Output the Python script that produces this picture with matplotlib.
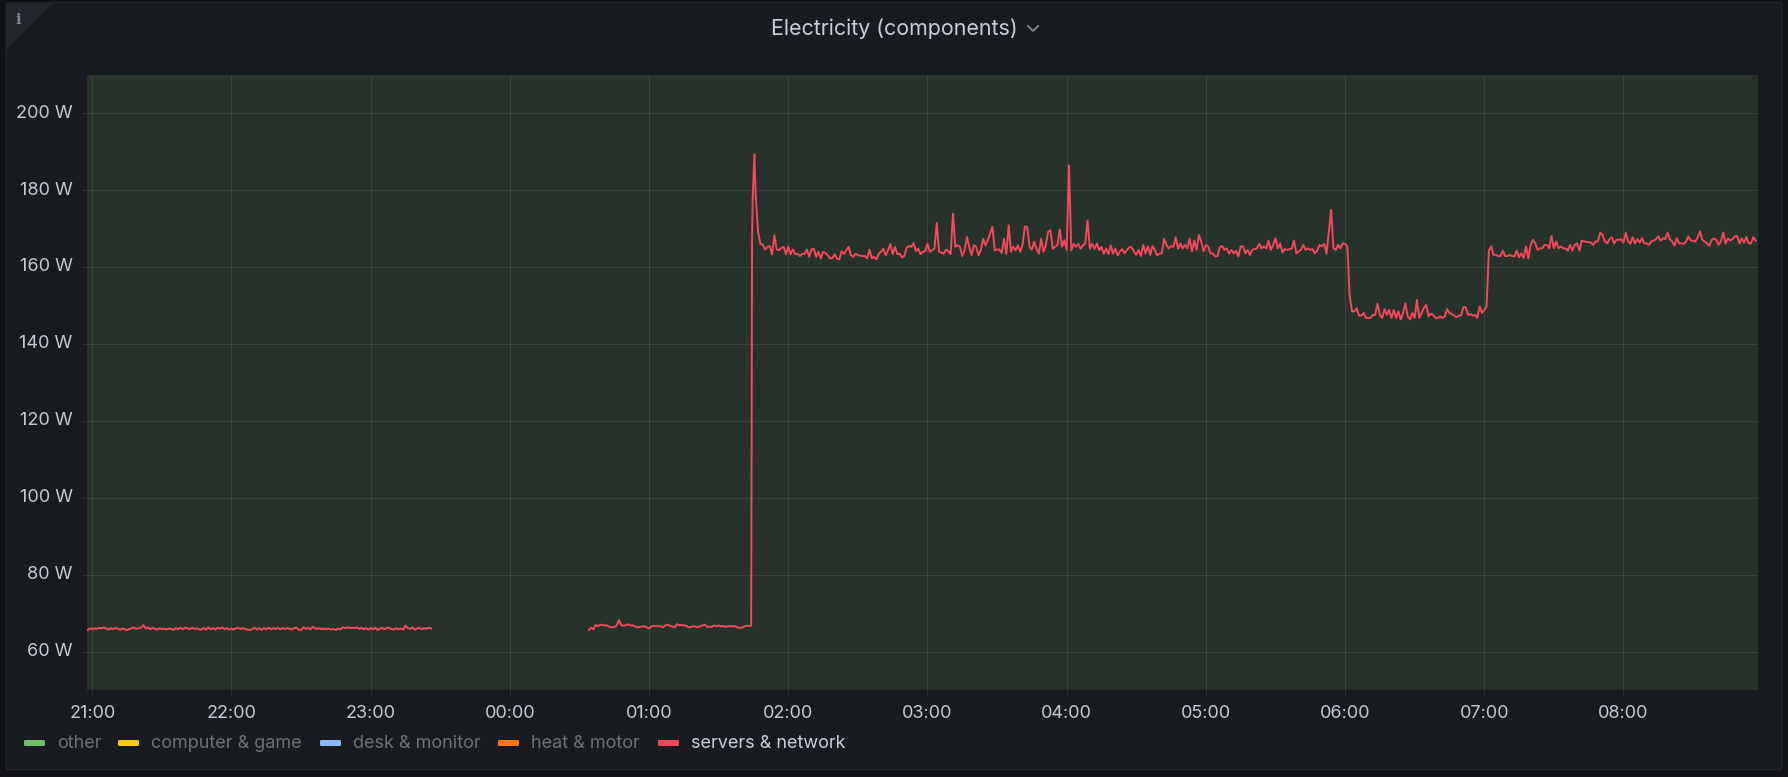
'''Electricity (components) panel: one day-night stretch of the servers & network power draw.'''
import pandas as pd
import matplotlib
matplotlib.use("Agg")
import matplotlib.pyplot as plt
import matplotlib.dates as mdates
from matplotlib.patches import FancyBboxPatch, Polygon
from matplotlib.ticker import FuncFormatter
from matplotlib.transforms import ScaledTranslation

plt.rcParams["font.family"] = ["Inter", "DejaVu Sans"]

# power readings in W, one per minute, one list per clock hour
w_2058 = [65.6, 66.0]
w_21 = [65.9, 66.0, 65.9, 66.2, 66.0, 66.3, 66.0, 65.7, 66.1, 65.8, 66.2, 65.9, 65.7, 66.0, 65.8, 65.6, 65.9, 66.1, 66.2, 65.9,
        66.1, 66.2, 66.9, 66.0, 66.3, 65.8, 66.2, 65.9, 65.7, 66.1, 65.8, 66.0, 65.7, 66.0, 65.9, 65.6, 66.1, 65.8, 66.2, 65.8,
        66.2, 66.1, 65.8, 66.2, 65.9, 66.0, 65.8, 65.7, 66.1, 65.7, 66.3, 65.8, 66.1, 65.7, 66.2, 65.9, 66.3, 65.8, 66.1, 65.7]
w_22 = [66.0, 65.7, 66.1, 66.1, 65.9, 66.1, 65.8, 65.7, 65.6, 65.9, 66.2, 65.7, 66.1, 65.6, 66.1, 65.8, 66.2, 65.8, 66.1, 65.9,
        66.2, 65.8, 66.1, 65.9, 66.1, 65.9, 65.8, 66.1, 66.2, 65.7, 65.6, 66.3, 65.9, 66.2, 65.8, 66.4, 66.1, 65.9, 66.1, 65.8,
        66.0, 65.8, 66.0, 65.7, 65.9, 65.6, 66.0, 65.8, 66.3, 66.1, 66.3, 66.2, 66.2, 66.1, 66.3, 65.9, 66.2, 65.8, 66.1, 65.7]
w_23 = [66.1, 65.8, 66.2, 65.6, 66.0, 66.1, 65.8, 66.2, 66.1, 65.9, 65.7, 66.1, 65.8, 66.0, 65.7, 66.8, 66.1, 65.9, 66.3, 65.7,
        66.0, 66.2, 65.8, 66.1, 65.9, 66.2, 66.0]
w_0034 = [65.6, 66.2, 65.8, 66.9, 66.6, 67.0, 66.9, 66.8, 66.8, 66.4, 66.3, 66.4, 66.7, 68.2, 66.9, 66.7, 66.9, 67.1, 66.8, 66.8,
          66.5, 66.3, 66.4, 66.5, 66.6, 66.3]
w_01 = [66.0, 66.5, 66.7, 66.6, 66.6, 66.6, 66.3, 66.8, 67.0, 66.7, 66.5, 66.3, 67.1, 66.9, 66.9, 66.8, 66.7, 66.3, 66.4, 66.6,
        66.5, 66.3, 66.6, 66.8, 67.0, 66.4, 66.5, 66.4, 66.8, 66.6, 66.8, 66.5, 66.7, 66.4, 66.6, 66.6, 66.6, 66.6, 66.3, 66.2,
        66.2, 66.5, 66.7, 66.7, 66.7]
# the jump up did not land on whole minutes
jump_times = ["01:44:24", "01:44:40", "01:45:24"]
jump_watts = [168.0, 178.0, 189.4]
w_0146 = [178.0, 169.0, 166.0, 165.9, 164.6, 165.3, 165.5, 163.3, 168.3, 164.6, 164.4, 165.0, 165.3, 163.4]
w_02 = [165.3, 163.4, 164.6, 163.4, 163.5, 162.9, 163.5, 163.4, 164.6, 162.7, 164.6, 164.8, 162.7, 164.0, 162.3, 164.0, 163.7, 163.1, 162.3, 162.3,
        163.4, 162.2, 162.0, 164.2, 163.4, 164.4, 165.3, 163.1, 162.7, 163.5, 163.1, 163.0, 162.9, 162.9, 162.3, 164.6, 162.3, 162.7, 162.0, 163.5,
        164.0, 164.8, 163.1, 164.4, 166.0, 163.4, 165.3, 163.4, 163.5, 162.5, 162.9, 165.1, 165.5, 165.3, 166.3, 164.2, 164.8, 163.4, 164.0, 164.2]
w_03 = [166.1, 164.0, 164.4, 164.8, 171.5, 164.0, 163.8, 163.5, 164.6, 164.2, 163.4, 173.9, 165.3, 165.7, 165.3, 162.9, 164.4, 167.9, 165.3, 163.1,
        165.7, 165.3, 163.1, 164.4, 167.4, 165.7, 167.0, 168.7, 170.5, 164.4, 164.6, 164.6, 163.7, 167.4, 163.5, 170.9, 164.0, 165.3, 164.4, 165.7,
        164.0, 165.9, 170.6, 170.5, 165.3, 164.6, 166.6, 164.8, 163.5, 167.4, 164.0, 165.7, 169.2, 169.6, 164.8, 165.3, 165.7, 169.8, 165.3, 167.0]
w_04 = [164.5, 186.5, 164.4, 166.1, 165.3, 166.1, 164.8, 165.7, 166.1, 172.2, 164.8, 166.1, 164.8, 166.1, 164.4, 165.3, 163.5, 164.8, 163.4, 165.7,
        163.5, 164.8, 163.1, 164.1, 164.7, 163.6, 164.5, 165.2, 165.2, 164.1, 163.2, 164.5, 162.9, 165.8, 163.6, 165.4, 163.2, 165.5, 164.5, 163.1,
        163.5, 163.6, 167.4, 165.8, 164.9, 165.5, 165.2, 167.8, 164.8, 166.2, 164.9, 165.8, 164.9, 167.4, 164.1, 166.9, 164.5, 168.4, 166.7, 164.1]
w_05 = [165.8, 165.4, 163.6, 163.6, 162.8, 162.9, 165.2, 165.5, 164.5, 164.9, 163.5, 164.5, 163.6, 164.3, 162.8, 165.4, 165.4, 163.6, 164.5, 163.2,
        164.5, 164.7, 164.9, 166.1, 164.9, 165.4, 164.9, 166.9, 164.5, 165.8, 167.5, 164.9, 166.2, 163.8, 164.7, 164.5, 164.7, 164.9, 166.9, 163.6,
        164.1, 164.5, 165.8, 164.5, 164.9, 164.5, 164.7, 163.6, 164.3, 165.8, 165.4, 166.1, 163.5, 169.3, 174.9, 164.9, 164.5, 165.8, 164.9, 166.2]
w_06 = [166.1, 165.4, 152.4, 148.5, 148.5, 149.3, 147.4, 147.4, 148.1, 146.8, 146.8, 146.8, 147.6, 147.6, 150.5, 147.6, 146.8, 149.1, 147.6, 148.9,
        146.8, 148.9, 146.8, 148.5, 146.4, 148.1, 150.6, 147.2, 146.4, 148.1, 146.8, 151.5, 146.8, 148.1, 149.4, 150.2, 147.2, 147.9, 147.6, 146.8,
        146.8, 147.2, 146.8, 147.2, 149.1, 148.1, 147.8, 147.4, 147.0, 147.4, 147.4, 149.6, 149.6, 147.6, 147.8, 147.4, 147.6, 146.8, 149.8, 148.1]
w_07 = [148.9, 149.8, 164.3, 165.4, 163.2, 163.2, 162.9, 162.9, 164.3, 162.9, 162.9, 163.2, 162.9, 162.8, 164.3, 162.6, 163.6, 162.4, 165.4, 162.3,
        165.8, 167.1, 166.2, 164.5, 164.9, 164.9, 165.8, 165.8, 164.9, 168.1, 164.9, 166.7, 164.9, 165.4, 164.9, 164.9, 164.3, 165.8, 164.3, 165.8,
        166.2, 164.3, 166.9, 166.7, 166.6, 166.5, 166.4, 165.8, 166.7, 166.7, 169.0, 168.4, 166.7, 166.2, 167.3, 167.8, 166.2, 167.1, 167.1, 167.3]
w_08 = [166.4, 169.0, 166.7, 166.1, 167.8, 166.2, 167.3, 166.4, 167.5, 166.2, 166.2, 165.8, 166.7, 166.9, 167.3, 168.0, 166.9, 167.5, 167.3, 169.0,
        167.3, 166.7, 165.6, 167.5, 166.2, 166.2, 166.1, 166.7, 168.0, 166.9, 166.9, 166.7, 167.8, 169.3, 167.1, 166.7, 166.2, 165.6, 167.1, 167.5,
        167.1, 165.8, 166.7, 169.0, 166.2, 167.5, 166.9, 167.3, 168.0, 168.1, 166.2, 167.5, 166.4, 167.8, 166.2, 166.2, 167.8, 166.9]

y_ticks = [60, 80, 100, 120, 140, 160, 180, 200]
legend_names = ["other", "computer & game", "desk & monitor", "heat & motor", "servers & network"]
legend_colors = ["#73bf69", "#f2cc0c", "#8ab8ff", "#ff780a", "#f2495c"]


def minutes(start, watts):
    return pd.Series(watts, index=pd.date_range(start, periods=len(watts), freq="min"))


before_gap = pd.concat([
    minutes("2021-01-01 20:58", w_2058),
    minutes("2021-01-01 21:00", w_21),
    minutes("2021-01-01 22:00", w_22),
    minutes("2021-01-01 23:00", w_23),
])
jump = pd.Series(jump_watts, index=pd.to_datetime(["2021-01-02 " + t for t in jump_times]))
after_gap = pd.concat([
    minutes("2021-01-02 00:34", w_0034),
    minutes("2021-01-02 01:00", w_01),
    jump,
    minutes("2021-01-02 01:46", w_0146),
    minutes("2021-01-02 02:00", w_02),
    minutes("2021-01-02 03:00", w_03),
    minutes("2021-01-02 04:00", w_04),
    minutes("2021-01-02 05:00", w_05),
    minutes("2021-01-02 06:00", w_06),
    minutes("2021-01-02 07:00", w_07),
    minutes("2021-01-02 08:00", w_08),
])

fig = plt.figure(figsize=(17.88, 7.77), dpi=100, facecolor="#111217")

# panel chrome, drawn in image pixels
bg = fig.add_axes([0, 0, 1, 1], zorder=0)
bg.set_xlim(0, 1788)
bg.set_ylim(777, 0)
bg.axis("off")
bg.add_patch(FancyBboxPatch((6, 2.5), 1776, 767, boxstyle="round,pad=0,rounding_size=3",
                            fc="#181b1f", ec="#24272c", lw=0.8))
bg.add_patch(Polygon([[6, 3], [53, 3], [6, 50]], closed=True, fc="#23262c", ec="none"))
bg.text(18, 19.5, "i", family="DejaVu Serif", weight="bold", fontsize=10.5, color="#85868c", ha="center", va="center")
bg.text(894.5, 29, "Electricity (components)", fontsize=15.4, color="#ccccdc", ha="center", va="center")
bg.plot([1028, 1033, 1038], [26, 31, 26], color="#85868c", lw=1.3)

swatch_x = [24, 118, 320, 498, 658]
for name, col, x in zip(legend_names, legend_colors, swatch_x):
    bg.add_patch(FancyBboxPatch((x, 740), 21, 6, boxstyle="round,pad=0,rounding_size=1.5", fc=col, ec="none"))
    text_col = "#ccccdc" if name == "servers & network" else "#6f7076"
    bg.text(x + 33, 743, name, fontsize=13, color=text_col, ha="left", va="center")

ax = fig.add_axes([87 / 1788, (777 - 690) / 777, (1758 - 87) / 1788, (690 - 75) / 777], zorder=1)
ax.set_facecolor("#27322b")
ax.plot(before_gap.index, before_gap.values, color="#f2495c", lw=1.4)
ax.plot(after_gap.index, after_gap.values, color="#f2495c", lw=1.4)

ax.set_xlim(pd.Timestamp("2021-01-01 20:57:43"), pd.Timestamp("2021-01-02 08:58:00"))
ax.set_ylim(50, 210)
ax.set_yticks(y_ticks)
ax.yaxis.set_major_formatter(FuncFormatter(lambda v, p: "%d W" % v))
ax.xaxis.set_major_locator(mdates.HourLocator())
ax.xaxis.set_major_formatter(mdates.DateFormatter("%H:%M"))
ax.grid(True, color="#ffffff", alpha=0.09, lw=0.8)
ax.set_axisbelow(True)
ax.tick_params(axis="both", length=3.8, width=0.8, color="#2d3136", labelcolor="#c7c8d3", labelsize=13)
ax.tick_params(axis="y", pad=6.5)
ax.tick_params(axis="x", pad=7)
up = ScaledTranslation(0, 1.6 / 72, fig.dpi_scale_trans)
for label in ax.get_yticklabels():
    label.set_transform(label.get_transform() + up)
for s in ax.spines.values():
    s.set_visible(False)

fig.savefig("out.png", dpi=100, facecolor=fig.get_facecolor())
